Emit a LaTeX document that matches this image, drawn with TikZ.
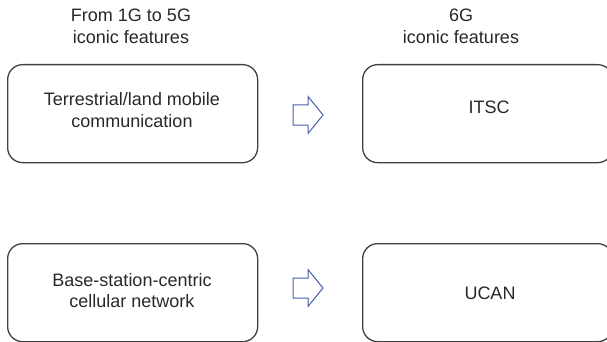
\documentclass[tikz,border=0pt]{standalone}
\usepackage{fontspec}
\setmainfont{Liberation Sans}
\usetikzlibrary{calc}
\definecolor{boxline}{RGB}{64,64,64}
\definecolor{txt}{RGB}{40,40,40}
\definecolor{arrowblue}{RGB}{70,95,170}
\tikzset{
  featbox/.style={draw=boxline, line width=1.3pt, rounded corners=15pt,
    minimum width=250pt, minimum height=98pt, inner sep=0pt, anchor=north west},
  lbl/.style={text=txt, align=center, inner sep=0pt,
    font=\fontsize{18}{21.7}\selectfont},
  fatarrow/.style={draw=arrowblue, line width=1pt, line join=miter, fill=white}
}
\begin{document}
\begin{tikzpicture}[x=1pt,y=-1pt]
\useasboundingbox (0,0) rectangle (607,342);
% titles
\node[lbl] (h1) at (131,26) {From 1G to 5G\\iconic features};
\node[lbl] (h2) at (461,26) {6G\\iconic features};
% boxes
\node[featbox] (b1) at (7,64) {};
\node[featbox] (b2) at (362,64) {};
\node[featbox] (b3) at (7,243) {};
\node[featbox] (b4) at (362,243) {};
% texts
\node[lbl] (t1) at (132,110.3) {Terrestrial/land mobile\\communication};
\node[lbl] (t2) at (489,107) {ITSC};
\node[lbl] (t3) at (132,290.5) {Base-station-centric\\cellular network};
\node[lbl] (t4) at (490,293) {UCAN};
% hollow arrows
\coordinate (a1) at (308,115);
\coordinate (a2) at (308,288);
\foreach \c in {a1,a2}{
  \draw[fatarrow] ($(\c)+(-15,-10)$) -- ($(\c)+(0,-10)$) -- ($(\c)+(0,-18.5)$)
    -- ($(\c)+(15,0)$) -- ($(\c)+(0,18.5)$) -- ($(\c)+(0,10)$)
    -- ($(\c)+(-15,10)$) -- cycle;
}
\end{tikzpicture}
\end{document}
